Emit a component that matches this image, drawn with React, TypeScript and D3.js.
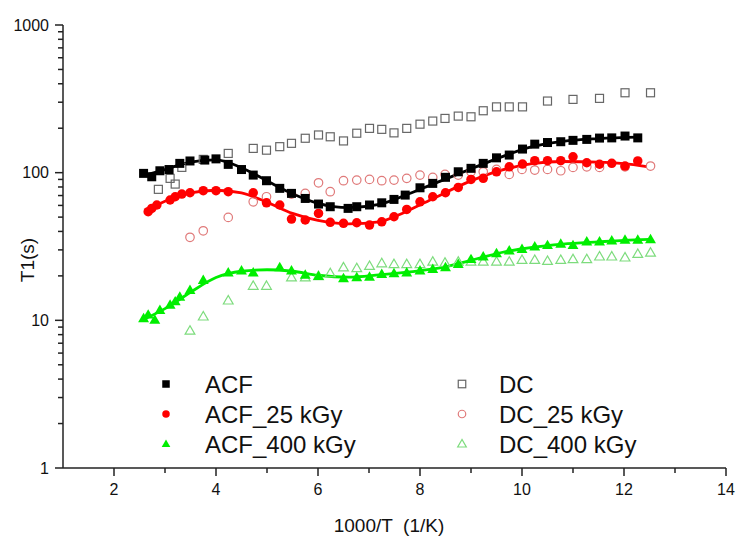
import React from "react";
import * as d3 from "d3";

// ---- data ----
const acfX = [2.58, 2.74, 2.9, 3.08, 3.29, 3.49, 3.78, 4.0, 4.24, 4.5, 4.73, 4.99, 5.25, 5.48, 5.75, 6.01, 6.24, 6.59, 6.76, 7.01, 7.25, 7.49, 7.71, 8.0, 8.25, 8.5, 8.75, 9.0, 9.24, 9.5, 9.75, 10.01, 10.25, 10.5, 10.76, 11.0, 11.27, 11.52, 11.76, 12.02, 12.27];
const acfY = [98.9, 93.8, 103, 105, 115.6, 120, 121.7, 124, 113.8, 105, 96.3, 88.2, 78.3, 72.4, 66.9, 61.3, 58.8, 57.3, 58.8, 60.4, 62.5, 65.9, 70.5, 79, 84.6, 93, 101.4, 107, 115.6, 126, 131.6, 144.5, 156, 160, 162, 165.5, 168, 171.5, 172, 177, 172];

const acf25X = [2.67, 2.74, 2.84, 3.1, 3.2, 3.33, 3.49, 3.75, 4.0, 4.24, 4.73, 4.99, 5.25, 5.48, 5.75, 6.01, 6.24, 6.5, 6.76, 7.01, 7.25, 7.49, 7.74, 8.0, 8.25, 8.5, 8.75, 9.0, 9.24, 9.5, 9.75, 10.01, 10.25, 10.5, 10.76, 11.0, 11.27, 11.52, 11.76, 12.02, 12.27];
const acf25Y = [54.4, 57.3, 60.4, 65.3, 68.7, 71.6, 73.1, 75.5, 75.5, 74.3, 73.1, 62.5, 60.4, 48.5, 47.8, 53, 46.1, 45.4, 45.8, 44.2, 46.5, 50.3, 56.4, 63.5, 68.7, 73.1, 79.5, 90, 91.5, 101.4, 109.6, 114.3, 120.5, 120.5, 120.5, 128.2, 116.7, 114, 115.6, 110.9, 120];

const acf400X = [2.58, 2.67, 2.8, 2.9, 3.1, 3.2, 3.29, 3.49, 3.75, 4.24, 4.5, 4.73, 5.25, 5.48, 5.75, 6.01, 6.5, 6.76, 7.01, 7.25, 7.49, 7.74, 8.0, 8.25, 8.5, 8.75, 9.0, 9.24, 9.5, 9.75, 10.0, 10.25, 10.5, 10.76, 11.0, 11.27, 11.52, 11.76, 12.02, 12.27, 12.52];
const acf400Y = [10.3, 10.9, 10.05, 11.7, 12.7, 13.4, 14.4, 16.0, 18.7, 21.0, 21.7, 21.0, 22.8, 21.7, 20.3, 19.9, 19.2, 19.5, 19.7, 20.5, 20.8, 21.0, 21.7, 22.2, 22.8, 24.0, 25.9, 27.0, 28.4, 29.6, 30.3, 31.5, 32.2, 32.9, 32.2, 34.1, 34.1, 34.6, 35.0, 35.0, 35.3];

const dcX = [2.87, 3.1, 3.2, 3.33, 3.75, 4.24, 4.73, 4.99, 5.25, 5.48, 5.75, 6.01, 6.24, 6.5, 6.76, 7.01, 7.25, 7.49, 7.74, 8.0, 8.25, 8.49, 8.75, 9.0, 9.24, 9.5, 9.75, 10.01, 10.5, 11.0, 11.52, 12.02, 12.52];
const dcY = [77.1, 91.5, 83.7, 108.6, 123, 135, 146, 142, 150, 158, 171, 180, 175, 164, 185, 199.5, 196.5, 186, 199.5, 213, 223.6, 233, 241.6, 239, 262.6, 279, 279, 279, 305.5, 313.5, 318.5, 347.6, 347.6];

const dc25X = [3.49, 3.75, 4.24, 4.73, 4.99, 5.48, 5.75, 6.01, 6.24, 6.5, 6.76, 7.01, 7.25, 7.49, 7.74, 8.0, 8.25, 8.49, 8.75, 9.0, 9.24, 9.5, 9.75, 10.0, 10.25, 10.5, 10.76, 11.0, 11.27, 11.52, 12.02, 12.52];
const dc25Y = [36.5, 40.4, 49.8, 63.5, 68.7, 71.6, 72.4, 85.4, 74.3, 88.2, 89.1, 90, 88.2, 89.1, 91.5, 96.3, 93, 97.3, 96.3, 101.4, 101.4, 105.2, 97.3, 105.2, 104.2, 105.2, 103, 108.6, 109.6, 108.6, 109.6, 110.9];

const dc400X = [3.49, 3.75, 4.24, 4.73, 4.99, 5.48, 5.75, 6.01, 6.24, 6.5, 6.76, 7.01, 7.25, 7.49, 7.74, 8.0, 8.25, 8.49, 8.75, 9.0, 9.24, 9.5, 9.75, 10.0, 10.25, 10.5, 10.76, 11.0, 11.27, 11.52, 11.76, 12.02, 12.27, 12.52];
const dc400Y = [8.5, 10.6, 13.6, 17.1, 17.1, 19.5, 19.5, 19.9, 20.8, 22.8, 22.5, 23.3, 24.3, 24.0, 24.0, 24.0, 24.9, 24.5, 24.9, 24.9, 24.9, 24.9, 24.9, 25.6, 25.6, 25.2, 25.6, 25.9, 25.9, 27.0, 27.0, 26.6, 28.1, 28.7];

// fitted curves
const fitAcfX = [2.6, 3.0, 3.5, 4.0, 4.5, 5.0, 5.5, 6.0, 6.6, 7.2, 7.7, 8.3, 9.0, 9.6, 10.2, 10.8, 11.5, 12.3];
const fitAcfY = [96, 105, 118, 122, 108, 88, 72, 62, 58, 61, 70, 85, 106, 128, 150, 163, 170, 174];
const fitAcf25X = [2.6, 3.0, 3.5, 4.0, 4.5, 5.0, 5.5, 6.0, 6.6, 7.2, 7.7, 8.3, 9.0, 9.6, 10.2, 10.8, 11.5, 12.0, 12.45];
const fitAcf25Y = [55, 64, 73, 76, 73, 63, 53, 47.5, 45, 46.5, 54, 68, 88, 104, 115, 119, 118, 115, 110];
const fitAcf400X = [2.6, 3.0, 3.5, 4.0, 4.5, 5.0, 5.5, 6.0, 6.6, 7.2, 7.8, 8.5, 9.0, 9.6, 10.2, 10.8, 11.5, 12.0, 12.5];
const fitAcf400Y = [10.2, 12, 15.5, 19.5, 21.5, 22, 21.5, 20.2, 19.6, 20.3, 21.3, 23, 25.5, 28.8, 31.2, 32.8, 34, 34.8, 35.3];

const xTicks = [2, 4, 6, 8, 10, 12, 14];
const yTicks = [1, 10, 100, 1000];
const legendLabels = ["ACF", "ACF_25 kGy", "ACF_400 kGy", "DC", "DC_25 kGy", "DC_400 kGy"];

const W = 737, H = 538;
const FONT = "Arial, 'Liberation Sans', sans-serif";

const BLACK = "#000000";
const RED = "#ff0000";
const GREEN = "#00ee00";
const GRAY = "#666666";
const LRED = "#e07a7a";
const LGREEN = "#7ddc7d";

type Shape = "square" | "circle" | "triangle";

function Marker({ shape, x, y, fill, stroke, size }: { shape: Shape; x: number; y: number; fill: string; stroke: string; size: number }) {
  const open = fill === "none";
  const sw = open ? 1.2 : 0;
  const st = open ? stroke : "none";
  if (shape === "square") {
    return <rect x={x - size / 2} y={y - size / 2} width={size} height={size} fill={fill} stroke={st} strokeWidth={sw} />;
  }
  if (shape === "circle") {
    return <circle cx={x} cy={y} r={size / 2} fill={fill} stroke={st} strokeWidth={sw} />;
  }
  const s = size * 1.15;
  const h = s * 0.866;
  const pts = `${x},${y - h * 0.6} ${x - s / 2},${y + h * 0.4} ${x + s / 2},${y + h * 0.4}`;
  return <polygon points={pts} fill={fill} stroke={st} strokeWidth={sw} />;
}

export default function App() {
  const x = d3.scaleLinear().domain([1, 14]).range([63, 726]);
  const y = d3.scaleLog().domain([1, 1000]).range([468, 25]);

  const line = d3
    .line<[number, number]>()
    .x((d) => x(d[0]))
    .y((d) => y(d[1]))
    .curve(d3.curveMonotoneX);

  const zip = (a: number[], b: number[]) => a.map((v, i) => [v, b[i]] as [number, number]);

  const series = [
    { xs: dcX, ys: dcY, shape: "square" as Shape, fill: "none", stroke: GRAY, size: 8 },
    { xs: dc25X, ys: dc25Y, shape: "circle" as Shape, fill: "none", stroke: LRED, size: 8.5 },
    { xs: dc400X, ys: dc400Y, shape: "triangle" as Shape, fill: "none", stroke: LGREEN, size: 8.5 },
    { xs: acfX, ys: acfY, shape: "square" as Shape, fill: BLACK, stroke: BLACK, size: 9 },
    { xs: acf25X, ys: acf25Y, shape: "circle" as Shape, fill: RED, stroke: RED, size: 9.5 },
    { xs: acf400X, ys: acf400Y, shape: "triangle" as Shape, fill: GREEN, stroke: GREEN, size: 9.5 },
  ];

  const fits = [
    { d: zip(fitAcfX, fitAcfY), c: BLACK },
    { d: zip(fitAcf25X, fitAcf25Y), c: RED },
    { d: zip(fitAcf400X, fitAcf400Y), c: GREEN },
  ];

  const yMinor: number[] = [];
  for (let dec = 1; dec < 1000; dec *= 10) for (let k = 2; k <= 9; k++) yMinor.push(dec * k);
  const xMinor = [3, 5, 7, 9, 11, 13];

  const legendItems = [
    { shape: "square" as Shape, fill: BLACK, stroke: BLACK },
    { shape: "circle" as Shape, fill: RED, stroke: RED },
    { shape: "triangle" as Shape, fill: GREEN, stroke: GREEN },
    { shape: "square" as Shape, fill: "none", stroke: GRAY },
    { shape: "circle" as Shape, fill: "none", stroke: LRED },
    { shape: "triangle" as Shape, fill: "none", stroke: LGREEN },
  ];

  const axisColor = "#222";

  return (
    <svg width={W} height={H} style={{ position: "absolute", left: 0, top: 0, background: "#fff" }} fontFamily={FONT}>
      {/* fitted lines */}
      {fits.map((f, i) => (
        <path key={i} d={line(f.d) || ""} fill="none" stroke={f.c} strokeWidth={2.8} />
      ))}
      {/* markers */}
      {series.map((s, si) =>
        s.xs.map((xv, i) => (
          <Marker key={si + "-" + i} shape={s.shape} x={x(xv)} y={y(s.ys[i])} fill={s.fill} stroke={s.stroke} size={s.size} />
        ))
      )}

      {/* axes */}
      <line x1={x(1)} x2={x(1)} y1={y(1000)} y2={y(1)} stroke={axisColor} strokeWidth={1.5} />
      <line x1={x(1)} x2={x(14)} y1={y(1)} y2={y(1)} stroke={axisColor} strokeWidth={1.5} />
      {yTicks.map((t) => (
        <g key={"yt" + t}>
          <line x1={x(1) - 8} x2={x(1)} y1={y(t)} y2={y(t)} stroke={axisColor} strokeWidth={1.5} />
          <text x={x(1) - 14} y={y(t)} dy="0.35em" textAnchor="end" fontSize={16} fill="#111">
            {t}
          </text>
        </g>
      ))}
      {yMinor.map((t) => (
        <line key={"ym" + t} x1={x(1) - 5} x2={x(1)} y1={y(t)} y2={y(t)} stroke={axisColor} strokeWidth={1.5} />
      ))}
      {xTicks.map((t) => (
        <g key={"xt" + t}>
          <line x1={x(t)} x2={x(t)} y1={y(1)} y2={y(1) + 8} stroke={axisColor} strokeWidth={1.5} />
          <text x={x(t)} y={495} textAnchor="middle" fontSize={16} fill="#111">
            {t}
          </text>
        </g>
      ))}
      {xMinor.map((t) => (
        <line key={"xm" + t} x1={x(t)} x2={x(t)} y1={y(1)} y2={y(1) + 5} stroke={axisColor} strokeWidth={1.5} />
      ))}

      {/* axis titles */}
      <text x={389} y={532} textAnchor="middle" fontSize={19} fill="#111" style={{ whiteSpace: "pre" }}>
        {"1000/T  (1/K)"}
      </text>
      <text transform="translate(34,260) rotate(-90)" textAnchor="middle" fontSize={19} fill="#111">
        T1(s)
      </text>

      {/* legend */}
      {legendItems.map((it, i) => {
        const col = Math.floor(i / 3);
        const row = i % 3;
        const mx = col === 0 ? 166 : 462;
        const tx = col === 0 ? 205 : 499;
        const my = 384 + row * 30;
        return (
          <g key={"lg" + i}>
            <Marker shape={it.shape} x={mx} y={my} fill={it.fill} stroke={it.stroke} size={7.5} />
            <text x={tx} y={my} dy="0.36em" fontSize={24} fill="#111">
              {legendLabels[i]}
            </text>
          </g>
        );
      })}
    </svg>
  );
}
